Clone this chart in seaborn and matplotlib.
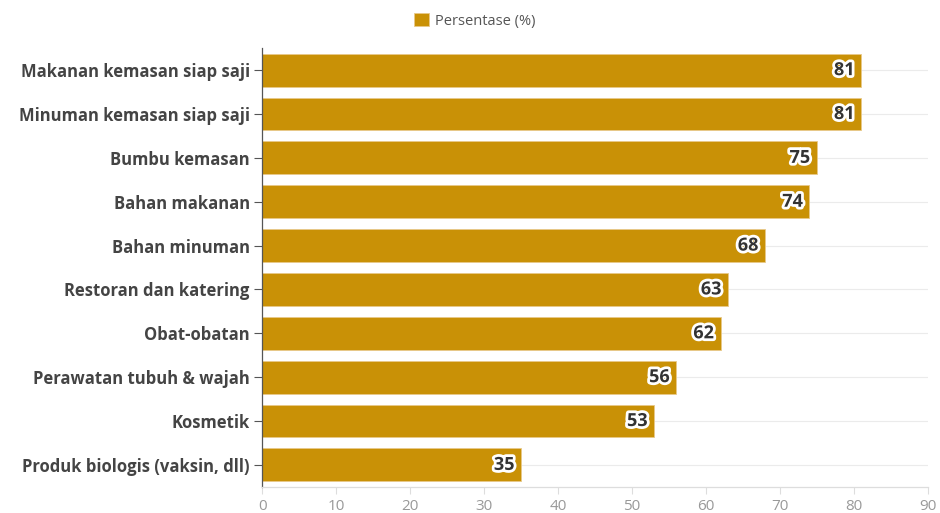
import pandas as pd
import matplotlib.pyplot as plt
import matplotlib.patheffects as pe
import seaborn as sns

categories = [
    "Makanan kemasan siap saji",
    "Minuman kemasan siap saji",
    "Bumbu kemasan",
    "Bahan makanan",
    "Bahan minuman",
    "Restoran dan katering",
    "Obat-obatan",
    "Perawatan tubuh & wajah",
    "Kosmetik",
    "Produk biologis (vaksin, dll)",
]
persentase = [81, 81, 75, 74, 68, 63, 62, 56, 53, 35]
xticks = [0, 10, 20, 30, 40, 50, 60, 70, 80, 90]

df = pd.DataFrame({"kategori": categories, "persen": persentase})

sns.set_theme(style="white")
plt.rcParams['font.family'] = ['Open Sans', 'DejaVu Sans']

bar_color = "#C99106"

fig = plt.figure(figsize=(9.4, 5.13), dpi=100)
ax = fig.add_axes([0.279, 0.051, 0.708, 0.855])

for i in range(len(categories)):
    ax.axhline(i, color="#ebebeb", lw=0.8, zorder=0)

sns.barplot(data=df, x="persen", y="kategori", color=bar_color, width=0.75,
            saturation=1, ax=ax, zorder=2, edgecolor="#e8c98a", linewidth=0.6)

for i, v in enumerate(persentase):
    ax.text(v - 0.9, i, str(v), ha="right", va="center", fontsize=13,
            fontweight="bold", color="#333333", zorder=3,
            path_effects=[pe.withStroke(linewidth=4, foreground="white")])

ax.set_xlim(0, 90)
ax.set_ylim(9.5, -0.5)
ax.set_xticks(xticks)
ax.set_xlabel("")
ax.set_ylabel("")
ax.tick_params(axis="x", colors="#999999", labelsize=11, length=5, width=0.8,
               bottom=True, pad=4, color="#dddddd")
ax.tick_params(axis="y", labelsize=12, length=6, width=0.8, left=True,
               color="#555555", pad=3)
for lab in ax.get_yticklabels():
    lab.set_fontweight("bold")
    lab.set_color("#444444")
for lab in ax.get_xticklabels():
    lab.set_color("#999999")

for s in ["top", "right"]:
    ax.spines[s].set_visible(False)
ax.spines["left"].set_color("#555555")
ax.spines["left"].set_linewidth(0.9)
ax.spines["bottom"].set_color("#dddddd")
ax.spines["bottom"].set_linewidth(0.9)

leg = fig.legend(handles=ax.patches[:1], labels=["Persentase (%)"],
                 loc="upper center", bbox_to_anchor=(0.505, 1.0), frameon=False,
                 fontsize=10.5, handlelength=1.0, handleheight=1.0, handletextpad=0.4)
for t in leg.get_texts():
    t.set_color("#555555")

fig.savefig("out.png", dpi=100)
